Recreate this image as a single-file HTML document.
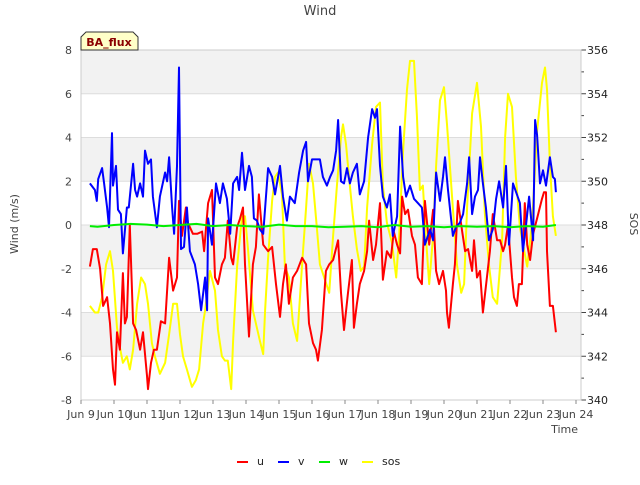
<!DOCTYPE html>
<html><head><meta charset="utf-8"><style>
body{margin:0;background:#fff;font-family:"Liberation Sans","DejaVu Sans",sans-serif}
svg text{font-family:"DejaVu Sans","Liberation Sans",sans-serif}
</style></head><body>
<svg id="c" width="640" height="480" viewBox="0 0 640 480">
<rect x="0" y="0" width="640" height="480" fill="#fff"/>
<g id="bands"></g><g id="grid"></g><g id="series"></g><g id="axes"></g>
<text x="320" y="15" text-anchor="middle" font-size="13" fill="#444">Wind</text>
<text transform="translate(18,224) rotate(-90)" text-anchor="middle" font-size="11" fill="#444">Wind (m/s)</text>
<text transform="translate(630,224) rotate(90)" text-anchor="middle" font-size="11" fill="#444">SOS</text>
<text x="578" y="433" text-anchor="end" font-size="11" fill="#444">Time</text>
<g>
<path d="M81,50 L81,37 L86,32 L133,32 L138,37 L138,50 Z" fill="#ffffc8" stroke="#333" stroke-width="1"/>
<text x="109" y="46" text-anchor="middle" font-size="11" font-weight="bold" fill="#8b0000">BA_flux</text>
</g>
<g id="legend"></g>
</svg>
<script>
const dayLabels=["Jun 9","Jun 10","Jun 11","Jun 12","Jun 13","Jun 14","Jun 15","Jun 16","Jun 17","Jun 18","Jun 19","Jun 20","Jun 21","Jun 22","Jun 23","Jun 24"];
const leftTicks=[-8,-6,-4,-2,0,2,4,6,8];
const rightTicks=[340,342,344,346,348,350,352,354,356];
const vT=[0.27,0.42,0.48,0.52,0.64,0.70,0.79,0.85,0.94,0.97,1.06,1.12,1.21,1.27,1.39,1.45,1.58,1.64,1.70,1.79,1.88,1.94,2.03,2.12,2.18,2.30,2.39,2.55,2.61,2.67,2.76,2.82,2.91,2.97,3.03,3.12,3.21,3.30,3.45,3.55,3.64,3.76,3.82,3.85,3.97,4.09,4.21,4.30,4.42,4.52,4.61,4.73,4.79,4.88,4.97,5.09,5.18,5.24,5.33,5.42,5.52,5.67,5.79,5.88,6.03,6.12,6.24,6.33,6.48,6.61,6.73,6.82,6.88,7.00,7.15,7.24,7.33,7.45,7.55,7.64,7.73,7.79,7.88,7.97,8.06,8.15,8.24,8.36,8.45,8.58,8.70,8.82,8.91,8.97,9.06,9.15,9.27,9.36,9.45,9.58,9.67,9.76,9.85,9.97,10.09,10.21,10.33,10.42,10.58,10.67,10.76,10.88,10.97,11.03,11.12,11.27,11.36,11.48,11.58,11.70,11.76,11.85,11.94,12.03,12.09,12.18,12.27,12.36,12.48,12.58,12.67,12.79,12.88,12.97,13.09,13.21,13.30,13.39,13.48,13.58,13.70,13.76,13.82,13.91,14.00,14.09,14.21,14.30,14.36,14.39];
const vV=[1.9,1.6,1.1,2.1,2.6,1.9,0.8,-0.1,4.2,1.8,2.7,0.7,0.5,-1.3,0.8,0.8,2.8,1.6,1.3,1.9,1.3,3.4,2.8,3,1.3,-0.1,1.3,2.4,2,3.1,0.8,-0.4,2.7,7.2,-1.1,-1,0.8,-1.2,-1.8,-2.7,-3.9,-2.4,-3.9,0.3,-0.9,1.9,1,1.9,1.2,-0.4,1.9,2.2,1.6,3.3,1.6,2.7,2.2,0.3,0.2,-0.2,-0.4,2.6,2.2,1.4,2.7,1.3,0.2,1.3,1,2.4,3.4,3.8,2,3,3,3,2.2,1.8,2.2,2.5,3.4,4.8,2,1.9,2.6,1.9,2.4,2.8,1.4,2,4,5.3,4.9,5.3,2.7,1.3,0.8,1.4,-0.5,0.4,4.5,2.2,1.3,1.8,1.2,1,0.8,-0.9,-0.2,-0.7,2.4,1.1,2.2,3.1,1.6,-0.5,-0.1,0.1,0.5,1.9,3.1,0.5,1.3,1.6,3.1,1.9,0.8,-0.7,-0.2,1.2,2,0.8,2.7,-0.9,1.9,1.4,1,-1.2,-0.1,1.3,-0.7,4.8,4.1,1.9,2.5,1.8,3.1,2.2,2.1,1.5];
const uT=[0.27,0.36,0.48,0.58,0.67,0.79,0.88,0.97,1.03,1.09,1.18,1.27,1.33,1.39,1.48,1.58,1.67,1.79,1.88,2.00,2.03,2.12,2.21,2.30,2.42,2.55,2.67,2.79,2.91,2.97,3.06,3.18,3.24,3.39,3.52,3.67,3.73,3.85,3.97,4.06,4.15,4.27,4.36,4.45,4.55,4.61,4.73,4.82,4.91,4.97,5.09,5.21,5.30,5.39,5.52,5.67,5.79,5.91,6.03,6.12,6.21,6.30,6.42,6.55,6.70,6.82,6.91,7.03,7.12,7.18,7.30,7.42,7.52,7.64,7.79,7.88,7.97,8.09,8.21,8.27,8.36,8.45,8.58,8.67,8.73,8.85,8.94,9.06,9.15,9.27,9.39,9.48,9.58,9.67,9.73,9.82,9.91,10.03,10.12,10.21,10.33,10.42,10.55,10.67,10.76,10.85,10.97,11.06,11.09,11.15,11.27,11.33,11.42,11.55,11.64,11.73,11.85,11.91,12.00,12.09,12.18,12.30,12.39,12.48,12.61,12.70,12.79,12.85,12.94,13.06,13.12,13.21,13.27,13.36,13.45,13.52,13.61,13.70,13.82,13.97,14.03,14.09,14.12,14.21,14.30,14.39];
const uV=[-1.9,-1.1,-1.1,-2,-3.7,-3.3,-4.5,-6.6,-7.3,-4.9,-5.7,-2.2,-4.5,-4.2,0,-4.5,-4.8,-5.7,-4.9,-6.9,-7.5,-6.3,-5.7,-5.7,-4.4,-4.5,-1.5,-3,-2.4,1.1,-0.5,0.8,0.1,-0.4,-0.4,-0.3,-1.2,1,1.6,-2.4,-2.7,-1.8,-1.5,0.2,-1.5,-1.8,-0.1,0.3,0.8,-1.8,-5.1,-1.8,-1,1.4,-0.9,-1.2,-1,-2.7,-4.2,-2.7,-1.8,-3.6,-2.4,-2.1,-1.5,-1.8,-4.5,-5.4,-5.7,-6.2,-4.8,-2.1,-1.8,-1.6,-0.7,-3.1,-4.8,-3.1,-1.6,-4.7,-3.6,-2.7,-2.1,-1.2,0.2,-1.6,-0.9,1,-2.5,-1.2,-1.5,-0.3,-0.9,-1.3,1.3,0.5,0.7,-0.5,-0.9,-2.4,-2.7,1.1,-0.9,0.7,-2.1,-2.7,-2.1,-3,-4,-4.7,-2.7,-1.8,1.1,-0.3,-1.2,-1.1,-2.1,-0.7,-2.4,-2.1,-4,-2.4,-1.2,0.5,-0.7,-0.7,-1.2,-0.9,0,-2.4,-3.3,-3.7,-2.7,-2.7,1,-0.9,-1.6,-0.4,0.3,1.2,1.5,1.5,-1.2,-3.7,-3.7,-4.9,-4];
const wT=[0.27,0.5,1,1.5,2,2.5,3,3.5,4,4.5,5,5.5,6,6.5,7,7.5,8,8.5,9,9.5,10,10.5,11,11.5,12,12.5,13,13.5,14,14.39];
const wV=[-0.05,-0.08,0,0.05,0.02,-0.05,0,0.05,-0.05,0,-0.05,-0.08,0.02,-0.05,-0.05,-0.1,-0.08,-0.05,-0.1,0,-0.08,-0.05,-0.1,-0.05,-0.08,-0.05,-0.1,-0.05,-0.08,0];
const sT=[0.27,0.42,0.52,0.64,0.76,0.88,0.97,1.09,1.18,1.27,1.39,1.48,1.58,1.70,1.82,1.94,2.03,2.15,2.24,2.39,2.55,2.67,2.79,2.91,3.00,3.09,3.21,3.36,3.48,3.58,3.70,3.76,3.91,4.06,4.15,4.27,4.36,4.45,4.55,4.61,4.73,4.88,4.97,5.06,5.21,5.33,5.42,5.52,5.58,5.67,5.79,5.88,5.97,6.09,6.18,6.30,6.42,6.55,6.70,6.82,6.91,7.03,7.15,7.24,7.39,7.52,7.64,7.76,7.88,7.94,8.03,8.12,8.24,8.36,8.48,8.58,8.67,8.82,8.94,9.06,9.15,9.27,9.42,9.55,9.64,9.76,9.88,9.97,10.09,10.18,10.27,10.36,10.45,10.55,10.67,10.76,10.88,11.00,11.09,11.24,11.39,11.52,11.61,11.70,11.85,12.00,12.12,12.24,12.36,12.48,12.61,12.76,12.85,12.94,13.06,13.18,13.30,13.42,13.52,13.67,13.82,13.97,14.06,14.12,14.21,14.30,14.39];
const sV=[344.3,344,344,344.7,346.2,346.8,345.9,343.3,342.4,341.7,342,341.4,342.3,344.4,345.6,345.3,344.4,342.6,342,341.2,341.7,343,344.4,344.4,343,342,341.4,340.6,340.9,341.4,343.5,344.1,345.9,345,343.2,342,341.8,341.8,340.5,342.7,346.1,348.4,348.4,346.9,344.1,343.3,342.7,342.1,344.1,346.5,349.1,350.2,350.4,349.4,346.1,345.6,343.5,342.7,346.2,348.8,350.8,349.9,347.8,346.2,345.5,344.9,347.5,349.9,352,352.6,351.7,350.2,348.4,346.9,345.9,346.1,348.8,351.7,353.4,353.6,349.8,348.1,347.2,345.6,347.5,351.4,354.2,355.5,355.5,353,349.6,349.8,347.5,345.3,347.5,350.7,353.7,354.3,352.6,349.4,346.2,344.9,345.3,348.8,353.1,354.5,352.5,348.5,346.2,344.7,344.4,347.3,352,354,353.4,350.2,347.9,346.9,346.1,348.1,352.3,354.5,355.2,354.2,350.8,348.4,347.5];

const NS='http://www.w3.org/2000/svg';
const L=81,R=581,T=50,B=400;
const x=d=>L+d*33.0;
const y=v=>T+(8-v)*(B-T)/16;
const y2=v=>T+(356-v)*(B-T)/16;
function mk(tag,attrs,parent){const e=document.createElementNS(NS,tag);for(const k in attrs)e.setAttribute(k,attrs[k]);parent.appendChild(e);return e;}
const bands=document.getElementById('bands'),grid=document.getElementById('grid'),ser=document.getElementById('series'),ax=document.getElementById('axes'),leg=document.getElementById('legend');
[[6,8],[2,4],[-2,0],[-6,-4]].forEach(b=>{const r=mk('rect',{x:L,y:y(b[1]),width:R-L,height:y(b[0])-y(b[1]),fill:'#f2f2f2'},bands);

});
leftTicks.forEach(t=>{const g=mk('line',{x1:L,x2:R,y1:y(t),y2:y(t),stroke:'#ddd','stroke-width':1},grid);


const tx=mk('text',{x:L-9,y:y(t)+4,'text-anchor':'end','font-size':11,fill:'#444'},ax);tx.textContent=t;

});
rightTicks.forEach((t,i)=>{mk('line',{x1:R,x2:R+5,y1:y2(t),y2:y2(t),stroke:'#444'},ax);
if(i<rightTicks.length-1)mk('line',{x1:R,x2:R+3,y1:y2(t+1),y2:y2(t+1),stroke:'#444'},ax);
const tx=mk('text',{x:R+6,y:y2(t)+4,'font-size':11,fill:'#222'},ax);tx.textContent=t;

});
mk('rect',{x:L,y:T,width:R-L,height:B-T,fill:'none',stroke:'#ccc'},ax);
dayLabels.forEach((s,i)=>{mk('line',{x1:x(i),x2:x(i),y1:B,y2:B+4,stroke:'#888'},ax);
const tx=mk('text',{x:x(i),y:B+18,'text-anchor':'middle','font-size':11,fill:'#444'},ax);tx.textContent=s;

});
function line(ts,vs,fy,color,name){const p=mk('polyline',{points:ts.map((t,i)=>x(t).toFixed(1)+','+fy(vs[i]).toFixed(1)).join(' '),fill:'none',stroke:color,'stroke-width':2,'stroke-linejoin':'round'},ser);

}
line(sT,sV,y2,'#ffff00','sos-line');
line(uT,uV,y,'#ff0000','u-line');
line(vT,vV,y,'#0000ff','v-line');
line(wT,wV,y,'#00ee00','w-line');
[['u','#ff0000',237],['v','#0000ff',278],['w','#00ee00',319],['sos','#ffff00',362]].forEach(e=>{const g=mk('g',{},leg);


mk('line',{x1:e[2],x2:e[2]+11,y1:462,y2:462,stroke:e[1],'stroke-width':2},g);
const tx=mk('text',{x:e[2]+20,y:465,'font-size':11,fill:'#222'},g);tx.textContent=e[0];});
</script>
</body></html>
